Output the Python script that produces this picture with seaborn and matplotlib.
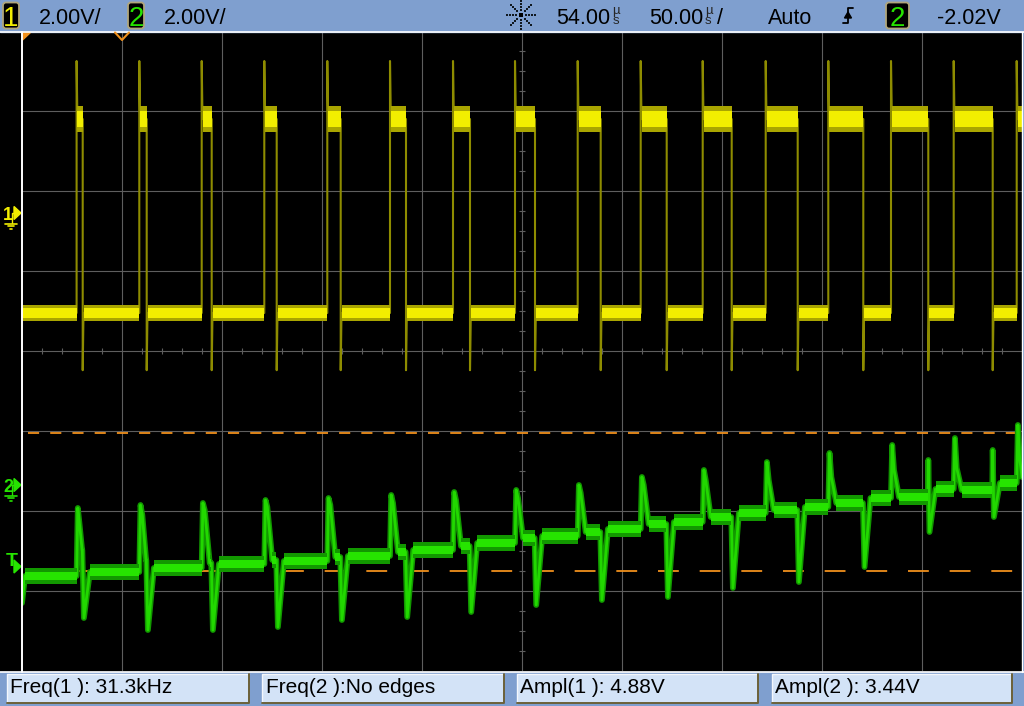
import numpy as np
import pandas as pd
import matplotlib
matplotlib.use("Agg")
import matplotlib.pyplot as plt
import seaborn as sns
from matplotlib.patches import Rectangle, FancyBboxPatch, Polygon

# scope settings
volts_per_div = 2.0
ch1_offset = 1.725     # ground marker of channel 1, divisions above centre
ch2_offset = -1.675    # ground marker of channel 2
t_left, t_right = -196.0, 304.0   # us (54 us delay, 50 us/div)
t_centre = 54.0

# channel 1 (yellow) - edge times in us, levels in V
ch1_rise = [-168.7, -137.35, -106.15, -74.85, -43.35, -12.0, 19.5, 50.5, 81.85,
            113.35, 144.35, 175.85, 207.15, 238.5, 269.85, 301.35]
ch1_fall = [-165.65, -133.65, -101.15, -68.65, -36.65, -4.0, 28.0, 60.5, 93.35,
            126.35, 158.85, 191.85, 224.65, 257.15, 289.35]
ch1_low, ch1_high = -2.5, 2.35
ch1_overshoot, ch1_undershoot = 3.8, -3.93

# channel 2 (green) - levels in V for every pulse of channel 1
ch2_start = -2.95
ch2_base = [-2.275, -2.175, -2.075, -1.975, -1.9, -1.775, -1.625, -1.45, -1.275,
            -1.1, -0.925, -0.7, -0.55, -0.325, -0.1, 0.05]
ch2_peak = [-0.575, -0.5, -0.45, -0.375, -0.325, -0.25, -0.175, -0.125, 0.0,
            0.2, 0.375, 0.575, 0.8, 1.0, 1.175, 1.5]
ch2_shoulder = [-1.0, -0.75, -0.625, -0.55, -0.5, -0.45, -0.375, -0.325, -0.2,
                0.0, 0.125, 0.125, 0.2, 0.375, 0.425, 0.65]
ch2_plateau = [-1.625, -1.875, -1.95, -1.875, -1.8, -1.675, -1.525, -1.325, -1.175,
               -0.975, -0.8, -0.625, -0.45, -0.3, -0.125, 0.2]
ch2_trough = [-3.325, -3.625, -3.625, -3.55, -3.375, -3.3, -3.175, -3.0, -2.875,
              -2.8, -2.575, -2.425, -2.05, -1.175, -0.8]
ch2_kick = [None] * 13 + [0.625, 0.875]

measurements = ["Freq(1 ): 31.3kHz", "Freq(2 ):No edges", "Ampl(1 ): 4.88V", "Ampl(2 ): 3.44V"]

YEL_EDGE, YEL_OUT, YEL_CORE = "#8e8c00", "#a9a500", "#f2ee00"
GRN_LINE, GRN_OUT, GRN_CORE = "#22d800", "#129800", "#26e400"
GRID = "#5e5e5e"
ORANGE = "#f0901c"
BAR = "#7f9fcf"


def d1(v):
    return ch1_offset + np.asarray(v, dtype=float) / volts_per_div


def d2(v):
    return ch2_offset + np.asarray(v, dtype=float) / volts_per_div


# ---- build the traces from the read-off key points
t1, v1 = [t_left], [ch1_low]
for i, r in enumerate(ch1_rise):
    t1 += [r, r, r + 0.4]
    v1 += [ch1_low, ch1_overshoot, ch1_high]
    if i < len(ch1_fall):
        f = ch1_fall[i]
        t1 += [f, f, f + 0.4]
        v1 += [ch1_high, ch1_undershoot, ch1_low]
t1.append(t_right)
v1.append(ch1_high)
ch1_df = pd.DataFrame({"t": t1, "div": d1(v1)})

t2, v2 = [t_left, t_left + 1.5], [ch2_start, ch2_base[0]]
for i, r in enumerate(ch1_rise):
    t2 += [r, r + 0.6, r + 1.5]
    v2 += [ch2_base[i], ch2_peak[i], ch2_shoulder[i]]
    if i < len(ch1_fall):
        f = ch1_fall[i]
        dec = min(4.0, f - r - 0.3)
        t2 += [r + dec, f - 0.2]
        v2 += [ch2_plateau[i], ch2_plateau[i]]
        if ch2_kick[i] is not None:
            t2.append(f)
            v2.append(ch2_kick[i])
        t2 += [f + 0.6, f + 3.6]
        v2 += [ch2_trough[i], ch2_base[i + 1]]
t2.append(t_right)
v2.append(ch2_plateau[-1])
ch2_df = pd.DataFrame({"t": t2, "div": d2(v2)})

sns.set_theme(style="dark", rc={"axes.facecolor": "black", "figure.facecolor": "black"})
plt.rcParams["font.family"] = ["Liberation Sans", "DejaVu Sans"]
plt.rcParams["lines.scale_dashes"] = False

fig = plt.figure(figsize=(10.24, 7.06), dpi=100)
ax = fig.add_axes([22 / 1024, 35 / 706, 1000 / 1024, 640 / 706])
ax.set_xlim(t_left, t_right)
ax.set_ylim(-4, 4)
ax.set_xticks([])
ax.set_yticks([])
for s in ax.spines.values():
    s.set_visible(False)

# graticule
for k in range(1, 10):
    ax.axvline(t_left + 50 * k, color=GRID, lw=0.8, zorder=1)
for k in range(-3, 4):
    ax.axhline(k, color=GRID, lw=0.8, zorder=1)
xt = [t_left + 10 * k for k in range(1, 50) if k % 5]
ax.vlines(xt, -0.04, 0.04, color=GRID, lw=0.8, zorder=1)
yt = [0.25 * m for m in range(-15, 16) if m % 4]
ax.hlines(yt, t_centre - 1.5, t_centre + 1.5, color=GRID, lw=0.8, zorder=1)

# orange trigger level lines
ax.plot([t_left + 3, t_right], [-1.025, -1.025], color=ORANGE, lw=1.3,
        linestyle=(0, (8, 8)), zorder=2)
ax.plot([t_left + 5.5, t_right], [-2.75, -2.75], color=ORANGE, lw=1.3,
        linestyle=(0, (15, 15)), zorder=2)

# channel 1 bands
low_segs = [(t_left, ch1_rise[0])] + [(f + 0.4, r) for f, r in zip(ch1_fall, ch1_rise[1:])]
high_segs = [(r + 0.4, f) for r, f in zip(ch1_rise, ch1_fall)] + [(ch1_rise[-1] + 0.4, t_right)]
for a, b in low_segs:
    ax.fill_between([a, b], d1(ch1_low - 0.21), d1(ch1_low + 0.21), color=YEL_OUT, lw=0, zorder=3)
    ax.fill_between([a, b], d1(ch1_low - 0.125), d1(ch1_low + 0.125), color=YEL_CORE, lw=0, zorder=4)
for a, b in high_segs:
    ax.fill_between([a, b], d1(ch1_high - 0.33), d1(ch1_high + 0.33), color=YEL_OUT, lw=0, zorder=3)
    ax.fill_between([a, b], d1(ch1_high - 0.19), d1(ch1_high + 0.19), color=YEL_CORE, lw=0, zorder=4)
sns.lineplot(data=ch1_df, x="t", y="div", sort=False, estimator=None, ax=ax,
             color=YEL_EDGE, lw=1.5, zorder=2)

# channel 2: glow + core trace, then noise bands on the flat parts
base_segs = [(t_left + 1.5, ch1_rise[0], ch2_base[0])] + \
    [(f + 3.6, r, b) for f, r, b in zip(ch1_fall, ch1_rise[1:], ch2_base[1:])]
plat_segs = [(r + min(4.0, f - r - 0.3), f - 0.2, p)
             for r, f, p in zip(ch1_rise, ch1_fall, ch2_plateau) if f - r > 4.5]
sns.lineplot(data=ch2_df, x="t", y="div", sort=False, estimator=None, ax=ax,
             color=GRN_OUT, lw=4.2, zorder=5)
sns.lineplot(data=ch2_df, x="t", y="div", sort=False, estimator=None, ax=ax,
             color=GRN_LINE, lw=2.0, zorder=6)
for a, b, v in base_segs + plat_segs:
    ax.fill_between([a, b], d2(v - 0.19), d2(v + 0.19), color=GRN_OUT, lw=0, zorder=6)
    ax.fill_between([a, b], d2(v - 0.1), d2(v + 0.1), color=GRN_CORE, lw=0, zorder=7)
ax.set_xlabel("")
ax.set_ylabel("")

# ---- overlay in pixel coordinates for the scope chrome
ov = fig.add_axes([0, 0, 1, 1], zorder=10)
ov.set_xlim(0, 1024)
ov.set_ylim(706, 0)
ov.axis("off")
ov.patch.set_alpha(0)

ov.add_patch(Rectangle((0, 0), 1024, 31.5, color=BAR))
ov.add_patch(Rectangle((0, 672), 1024, 34, color=BAR))
ov.add_patch(Rectangle((1022.5, 31), 2, 641, color=BAR))
ov.plot([0, 1024], [32, 32], color="white", lw=1.2)
ov.plot([0, 1024], [671.8, 671.8], color="white", lw=1.2)
ov.plot([21.6, 21.6], [32, 672], color="white", lw=1.4)
ov.plot([1022, 1022], [32, 672], color="white", lw=1.0)

# top bar
narrow = ["Liberation Sans Narrow", "Liberation Sans", "DejaVu Sans"]
for x0, w, txt, col in [(3, 16, "1", "#f2ee00"), (128, 16, "2", "#26e400"), (886, 23, "2", "#26e400")]:
    ov.add_patch(FancyBboxPatch((x0, 2.5), w, 26, boxstyle="round,pad=0,rounding_size=3",
                                facecolor="black", edgecolor="#b0a67c", lw=1.3))
    ov.text(x0 + w / 2, 26.5, txt, color=col, fontsize=20, ha="center", va="baseline", family=narrow)
top_font = dict(fontsize=15.5, color="black", va="baseline")
ov.text(39, 23.5, "2.00V/", **top_font)
ov.text(164, 23.5, "2.00V/", **top_font)
ov.text(610, 23.5, "54.00", ha="right", **top_font)
ov.text(612.5, 23.5, "µ\ns", fontsize=9.5, va="baseline", linespacing=0.75)
ov.text(703, 23.5, "50.00", ha="right", **top_font)
ov.text(705, 23.5, "µ\ns", fontsize=9.5, va="baseline", linespacing=0.75)
ov.text(717, 23.5, "/", **top_font)
ov.text(768, 23.5, "Auto", **top_font)
ov.text(937, 23.5, "-2.02V", **top_font)

# trigger mode icon
cx, cy = 521, 15
for ang in np.deg2rad(np.arange(0, 360, 45)):
    rr = np.array([5, 8, 11, 14])
    ov.scatter(cx + rr * np.cos(ang), cy + rr * np.sin(ang), s=1.5, marker="s", color="#101820", lw=0)
ov.scatter([cx], [cy], s=6, marker="s", color="black", lw=0)
# rising edge icon
ov.plot([843, 848, 848, 853], [23, 23, 8, 8], color="black", lw=1.3)
ov.add_patch(Polygon([(844.5, 18), (851.5, 18), (848, 12)], color="black"))

# bottom measurement boxes
box_x = [(7, 249), (262, 504), (516.5, 758), (771.5, 1012)]
for (a, b), txt in zip(box_x, measurements):
    ov.add_patch(Rectangle((a, 673.5), b - a, 29, facecolor="#d3e3f7", edgecolor="none"))
    ov.plot([a, a, b], [702.5, 673.5, 673.5], color="#f4f7fc", lw=1.0)
    ov.plot([a, b, b], [702.5, 702.5, 673.5], color="#6c6138", lw=1.4)
    ov.text(a + 3.5, 693, txt, fontsize=15, color="black", va="baseline")

# left margin markers
for y0, lab, col in [(213, "1", "#f2ee00"), (485, "2", "#26e400")]:
    ov.text(3, y0 + 6.5, lab, fontsize=13, color=col, va="baseline", family=narrow, weight="bold")
    ov.add_patch(Polygon([(14, y0 - 6.5), (14, y0 + 6.5), (21, y0)], color=col))
    ov.plot([14, 12, 12], [y0, y0, y0 + 10], color=col, lw=1.0)
    ov.plot([5, 17], [y0 + 10.5, y0 + 10.5], color=col, lw=1.2)
    ov.plot([8, 14], [y0 + 13, y0 + 13], color=col, lw=1.2)
    ov.plot([10, 12], [y0 + 15.5, y0 + 15.5], color=col, lw=1.2)
ov.text(6, 566, "T", fontsize=14, color="#26e400", va="baseline", weight="bold")
ov.add_patch(Polygon([(14, 560), (14, 573), (21, 566.5)], color="#26e400"))

# time reference markers
ov.add_patch(Polygon([(22, 32.5), (30.5, 32.5), (22, 40.5)], color=ORANGE))
ov.plot([115, 122, 129], [32.5, 40, 32.5], color=ORANGE, lw=1.5)

fig.savefig("out.png", dpi=100, facecolor="black")
